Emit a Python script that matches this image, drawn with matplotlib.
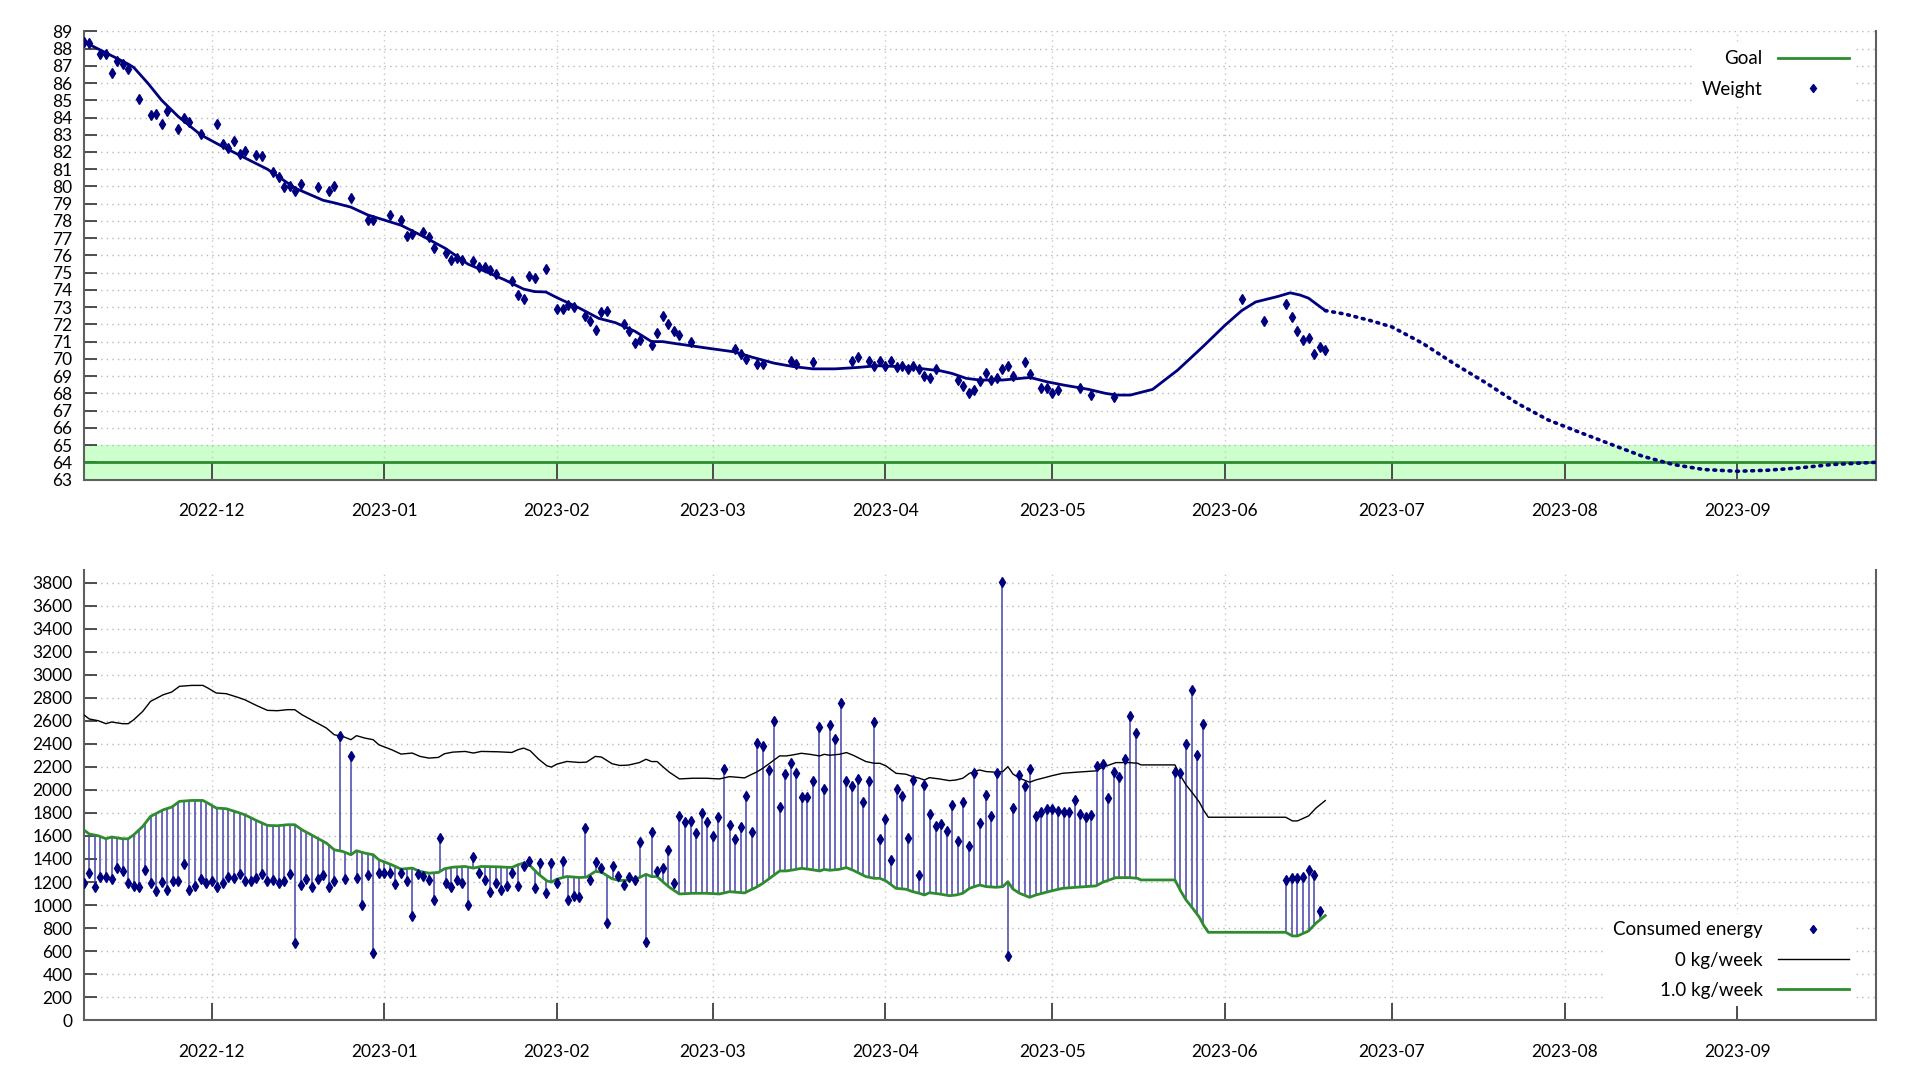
import datetime

import matplotlib
matplotlib.use("Agg")
import matplotlib.dates as mdates
import matplotlib.pyplot as plt
import numpy as np
from matplotlib.lines import Line2D

plt.rcParams["font.family"] = ["Lato", "DejaVu Sans"]

START = datetime.date(2022, 11, 8)
END_DAY = 322  # 2023-09-26

# --- weight (kg), x = days since START ---
weight_day = [0, 1, 3, 4, 5, 6, 7, 8, 10, 12, 13, 14, 15, 17, 18, 19, 21, 24, 25, 26,
              27, 28, 29, 31, 32, 34, 35, 36, 37, 38, 39, 42, 44, 45, 48, 51, 52, 55, 57, 58,
              59, 61, 62, 63, 65, 66, 67, 68, 70, 71, 72, 73, 74, 77, 78, 79, 80, 81, 83, 85,
              86, 87, 88, 90, 91, 92, 93, 94, 97, 98, 99, 100, 102, 103, 104, 105, 106, 107, 109, 117,
              118, 119, 121, 122, 127, 128, 131, 138, 139, 141, 142, 143, 144, 145, 146, 147, 148, 149, 150, 151,
              152, 153, 157, 158, 159, 160, 161, 162, 163, 164, 165, 166, 167, 169, 170, 172, 173, 174, 175, 179,
              181, 185, 208, 212, 216, 217, 218, 219, 220, 221, 222, 223]
weight_kg = [88.4, 88.3, 87.7, 87.7, 86.6, 87.3, 87.1, 86.8, 85.1, 84.15, 84.2, 83.65, 84.35, 83.35, 83.95, 83.75, 83.05, 83.65, 82.45, 82.25,
             82.65, 81.9, 82.05, 81.85, 81.75, 80.85, 80.55, 79.95, 80.05, 79.75, 80.15, 79.95, 79.75, 80.05, 79.35, 78.05, 78.05, 78.35, 78.05, 77.15,
             77.25, 77.35, 77.05, 76.45, 76.15, 75.75, 75.85, 75.75, 75.65, 75.35, 75.3, 75.15, 74.95, 74.5, 73.7, 73.5, 74.8, 74.7, 75.2, 72.9,
             72.9, 73.15, 73.0, 72.5, 72.2, 71.7, 72.7, 72.8, 72.0, 71.6, 70.9, 71.1, 70.8, 71.5, 72.5, 72.0, 71.6, 71.4, 71.0, 70.6,
             70.3, 70.0, 69.7, 69.7, 69.9, 69.7, 69.8, 69.9, 70.1, 69.9, 69.6, 69.9, 69.6, 69.9, 69.5, 69.6, 69.4, 69.6, 69.4, 69.0,
             68.9, 69.4, 68.8, 68.4, 68.0, 68.2, 68.7, 69.2, 68.8, 68.9, 69.4, 69.6, 69.0, 69.8, 69.1, 68.3, 68.3, 68.0, 68.2, 68.3,
             67.9, 67.8, 73.5, 72.2, 73.2, 72.4, 71.6, 71.1, 71.2, 70.3, 70.7, 70.5]

# smoothed weight trend
trend_day = [0, 8, 9, 11.5, 14, 17, 21, 25, 29, 33, 38, 43, 45, 48, 51, 54, 57, 61, 65, 69,
             73, 75.5, 79, 81, 83, 85, 89, 92.5, 95.5, 99, 102, 104, 106, 112.5, 117, 120, 124, 127.5, 131, 135,
             139, 142.5, 146.5, 150, 154, 156, 158.5, 161, 165, 170, 173, 176, 180.5, 183.5, 185.5, 188, 192, 196.5, 201, 205,
             208, 210.5, 214.5, 216.7, 218.5, 220, 223]
trend_kg = [88.4, 87.1, 86.9, 86.0, 85.0, 84.05, 83.0, 82.3, 81.65, 81.0, 79.9, 79.2, 79.05, 78.8, 78.35, 78.05, 77.75, 77.1, 76.4, 75.5,
            74.95, 74.6, 74.05, 73.9, 73.88, 73.55, 72.95, 72.35, 72.1, 71.6, 71.0, 71.0, 70.9, 70.6, 70.4, 70.1, 69.75, 69.55, 69.42, 69.42,
            69.5, 69.6, 69.55, 69.45, 69.3, 69.15, 68.87, 68.77, 68.77, 68.92, 68.67, 68.48, 68.23, 68.0, 67.9, 67.9, 68.23, 69.35, 70.7, 71.95,
            72.8, 73.3, 73.62, 73.83, 73.7, 73.52, 72.8]

# projected trend (dotted)
proj_day = [223, 226.5, 231, 235, 240.5, 246, 252, 257.5, 263, 269, 274.5, 280, 285.5, 291, 297, 302.5, 308, 314, 322]
proj_kg = [72.8, 72.6, 72.23, 71.85, 70.9, 69.75, 68.58, 67.42, 66.46, 65.7, 65.02, 64.35, 63.87, 63.58, 63.48, 63.54, 63.67, 63.87, 64.0]

GOAL_KG = 64
GOAL_BAND = (63, 65)

# --- energy (kcal) ---
energy_day = list(range(0, 190)) + [196, 197, 198, 199, 200, 201] + [216, 217, 218, 219, 220, 221, 222]
energy_kcal = [1195, 1276, 1155, 1241, 1241, 1227, 1320, 1300, 1195, 1169, 1155, 1308, 1195, 1123, 1201, 1131, 1210, 1210, 1358, 1131,
               1169, 1224, 1195, 1210, 1160, 1195, 1241, 1233, 1268, 1210, 1210, 1233, 1268, 1210, 1218, 1195, 1210, 1268, 667, 1175,
               1224, 1155, 1224, 1259, 1160, 1210, 2466, 1224, 2292, 1233, 1004, 1259, 586, 1276, 1276, 1276, 1184, 1276, 1210, 905,
               1268, 1253, 1218, 1044, 1581, 1195, 1155, 1218, 1195, 1004, 1416, 1276, 1218, 1114, 1195, 1131, 1169, 1276, 1169, 1340,
               1384, 1152, 1363, 1102, 1369, 1195, 1384, 1044, 1079, 1067, 1668, 1218, 1372, 1320, 847, 1340, 1250, 1172, 1247, 1218,
               1545, 678, 1632, 1299, 1319, 1478, 1194, 1774, 1719, 1731, 1623, 1800, 1725, 1600, 1768, 2183, 1696, 1577, 1676, 1951,
               1635, 2406, 2383, 2174, 2603, 1855, 2139, 2238, 2151, 1942, 1942, 2081, 2545, 2006, 2566, 2444, 2754, 2081, 2035, 2096,
               1893, 2081, 2592, 1574, 1748, 1392, 2006, 1951, 1580, 2087, 1258, 2044, 1789, 1687, 1705, 1647, 1867, 1557, 1893, 1510,
               2145, 1710, 1960, 1774, 2151, 3806, 557, 1841, 2128, 2038, 2185, 1778, 1806, 1835, 1835, 1818, 1809, 1809, 1910, 1789,
               1763, 1783, 2212, 2224, 1931, 2157, 2110, 2267, 2647, 2499,
               2154, 2145, 2403, 2870, 2305, 2574,
               1218, 1238, 1232, 1247, 1302, 1264, 948]

# maintenance (0 kg/week) and 1.0 kg/week intake
tdee_day = [0, 1, 2.6, 4, 5, 7, 8, 9, 10.6, 12, 14.3, 15.8, 17.2, 19.4, 21.4, 22.3, 23.8, 25.6, 27.5, 28.9,
            31, 33, 34.8, 36.6, 37.9, 39.2, 41.4, 43.6, 45, 46.5, 48, 49, 50.5, 52, 53, 55.3, 57, 59, 60.4, 62,
            63.7, 64.8, 66.3, 68.5, 70, 71.4, 74.4, 76.9, 78, 79, 80.2, 81.7, 83.2, 84, 85, 86.8, 89, 90.3, 91.9, 93,
            94.9, 96.3, 97.8, 99.8, 101, 102, 103, 104, 105.2, 107, 109.4, 111.8, 114.2, 116, 118.7, 119.9, 120.8, 122, 123.2, 125,
            126.2, 127.4, 128.9, 130.4, 132.2, 133, 134, 135.7, 137, 138.2, 140.5, 142, 143, 144.1, 145.9, 147.7, 148.9, 150.1, 151, 151.9,
            153.7, 155.5, 156.7, 157.9, 159.1, 160.9, 162.1, 163.9, 165.1, 166, 166.9, 168.1, 169.9, 171, 174, 175.8, 178.2, 181.8, 183, 185.4,
            187.8, 189.3, 189.9, 196, 197.1, 198, 199.2, 200.4, 201.2, 202, 215.9, 217.1, 218, 220, 221.3, 223]
tdee_kcal = [2654, 2617, 2602, 2576, 2591, 2576, 2576, 2611, 2683, 2770, 2828, 2851, 2901, 2909, 2909, 2886, 2843, 2837, 2808, 2785,
             2735, 2692, 2689, 2698, 2698, 2654, 2596, 2538, 2480, 2466, 2437, 2472, 2451, 2437, 2393, 2350, 2312, 2321, 2292, 2277,
             2283, 2315, 2329, 2335, 2321, 2335, 2332, 2326, 2350, 2364, 2341, 2268, 2210, 2199, 2225, 2248, 2239, 2242, 2292, 2286,
             2228, 2213, 2216, 2238, 2267, 2247, 2247, 2203, 2154, 2096, 2102, 2102, 2096, 2116, 2105, 2134, 2154, 2189, 2232, 2296,
             2296, 2305, 2319, 2310, 2296, 2310, 2302, 2310, 2325, 2302, 2247, 2232, 2232, 2209, 2145, 2137, 2116, 2102, 2087, 2107,
             2096, 2081, 2087, 2102, 2145, 2174, 2160, 2154, 2160, 2203, 2139, 2102, 2067, 2087, 2125, 2145, 2154, 2166, 2197, 2238,
             2238, 2232, 2218, 2218, 2116, 2044, 1971, 1893, 1820, 1763, 1763, 1731, 1731, 1774, 1841, 1908]
goal_kcal = [1654, 1617, 1602, 1576, 1591, 1576, 1576, 1611, 1683, 1770, 1828, 1851, 1901, 1909, 1909, 1886, 1843, 1837, 1808, 1785,
             1735, 1692, 1689, 1698, 1698, 1654, 1596, 1538, 1480, 1466, 1437, 1472, 1451, 1437, 1393, 1350, 1312, 1321, 1292, 1277,
             1283, 1315, 1329, 1335, 1321, 1335, 1332, 1326, 1350, 1364, 1341, 1268, 1210, 1199, 1225, 1248, 1239, 1242, 1292, 1286,
             1228, 1213, 1216, 1238, 1267, 1247, 1247, 1203, 1154, 1096, 1102, 1102, 1096, 1116, 1105, 1134, 1154, 1189, 1232, 1296,
             1296, 1305, 1319, 1310, 1296, 1310, 1302, 1310, 1325, 1302, 1247, 1232, 1232, 1209, 1145, 1137, 1116, 1102, 1087, 1107,
             1096, 1081, 1087, 1102, 1145, 1174, 1160, 1154, 1160, 1203, 1139, 1102, 1067, 1087, 1125, 1145, 1154, 1166, 1197, 1238,
             1238, 1232, 1218, 1218, 1116, 1044, 971, 893, 820, 763, 763, 731, 731, 774, 841, 908]

NAVY = "#00007f"
GREEN = "#2e8b2e"
BAND = "#ccffcc"
STEM = "#4444aa"
SPINE = "#606060"
GRID = "#b8b8b8"

x0 = mdates.date2num(START)


def to_x(days):
    return x0 + np.asarray(days, dtype=float)


def style_axes(ax):
    ax.set_xlim(to_x(0), to_x(END_DAY))
    ax.xaxis.set_major_locator(mdates.MonthLocator())
    ax.xaxis.set_major_formatter(mdates.DateFormatter("%Y-%m"))
    ax.spines["top"].set_visible(False)
    for side in ("left", "bottom", "right"):
        ax.spines[side].set_color(SPINE)
        ax.spines[side].set_linewidth(1.5)
    ax.grid(axis="y", linestyle=(0, (1, 3)), color=GRID, linewidth=1)
    ax.grid(axis="x", linestyle=(0, (1, 3)), color="#c8c8c8", linewidth=1)
    ax.set_axisbelow(True)
    ax.tick_params(axis="y", direction="in", length=9, width=1.3, color="#404040", pad=8, labelsize=12.5)
    ax.tick_params(axis="x", direction="in", length=12, width=1.3, color="#404040", pad=17, labelsize=12.5)


def add_legend(ax, handles, labels, loc, anchor):
    return ax.legend(handles=handles, labels=labels, loc=loc, bbox_to_anchor=anchor,
                     markerfirst=False, frameon=True, framealpha=1, facecolor="white",
                     edgecolor="none", fontsize=13.5, handlelength=3.8, handletextpad=0.8,
                     labelspacing=0.7, borderpad=0.4)


fig = plt.figure(figsize=(19.2, 10.8), dpi=100)
AX_LEFT, AX_W = 0.0436, 0.9337

# ---------------- weight ----------------
ax1 = fig.add_axes([AX_LEFT, 0.556, AX_W, 0.415])
ax1.axhspan(GOAL_BAND[0], GOAL_BAND[1], color=BAND, zorder=0.5, lw=0)
ax1.axhline(GOAL_KG, color=GREEN, lw=2, zorder=1)
ax1.plot(to_x(trend_day), trend_kg, color=NAVY, lw=2, zorder=3)
ax1.plot(to_x(proj_day), proj_kg, color=NAVY, lw=2.6, linestyle=(0, (0.5, 1.6)),
         dash_capstyle="round", zorder=3)
ax1.plot(to_x(weight_day), weight_kg, linestyle="none", marker="d", ms=5.5, color=NAVY, zorder=4)
ax1.set_ylim(63, 89)
ax1.set_yticks(np.arange(63, 90, 1))
style_axes(ax1)

add_legend(ax1,
           [Line2D([], [], color=GREEN, lw=2),
            Line2D([], [], linestyle="none", marker="d", ms=4.5, color=NAVY)],
           ["Goal", "Weight"], "upper right", (0.994, 0.995))

# ---------------- energy ----------------
ax2 = fig.add_axes([AX_LEFT, 0.0555, AX_W, 0.4165])
stem_base = np.interp(energy_day, tdee_day, goal_kcal)
ax2.vlines(to_x(energy_day), stem_base, energy_kcal, color=STEM, lw=1.1, zorder=2)
ax2.plot(to_x(tdee_day), tdee_kcal, color="black", lw=1, zorder=3)
ax2.plot(to_x(tdee_day), goal_kcal, color=GREEN, lw=2, zorder=3)
ax2.plot(to_x(energy_day), energy_kcal, linestyle="none", marker="d", ms=5.5, color=NAVY, zorder=4)
ax2.set_ylim(0, 3910)
ax2.set_yticks(np.arange(0, 3801, 200))
style_axes(ax2)

add_legend(ax2,
           [Line2D([], [], linestyle="none", marker="d", ms=4.5, color=NAVY),
            Line2D([], [], color="black", lw=1),
            Line2D([], [], color=GREEN, lw=2)],
           ["Consumed energy", "0 kg/week", "1.0 kg/week"], "lower right", (0.994, 0.01))

fig.savefig("out.png", dpi=100)
